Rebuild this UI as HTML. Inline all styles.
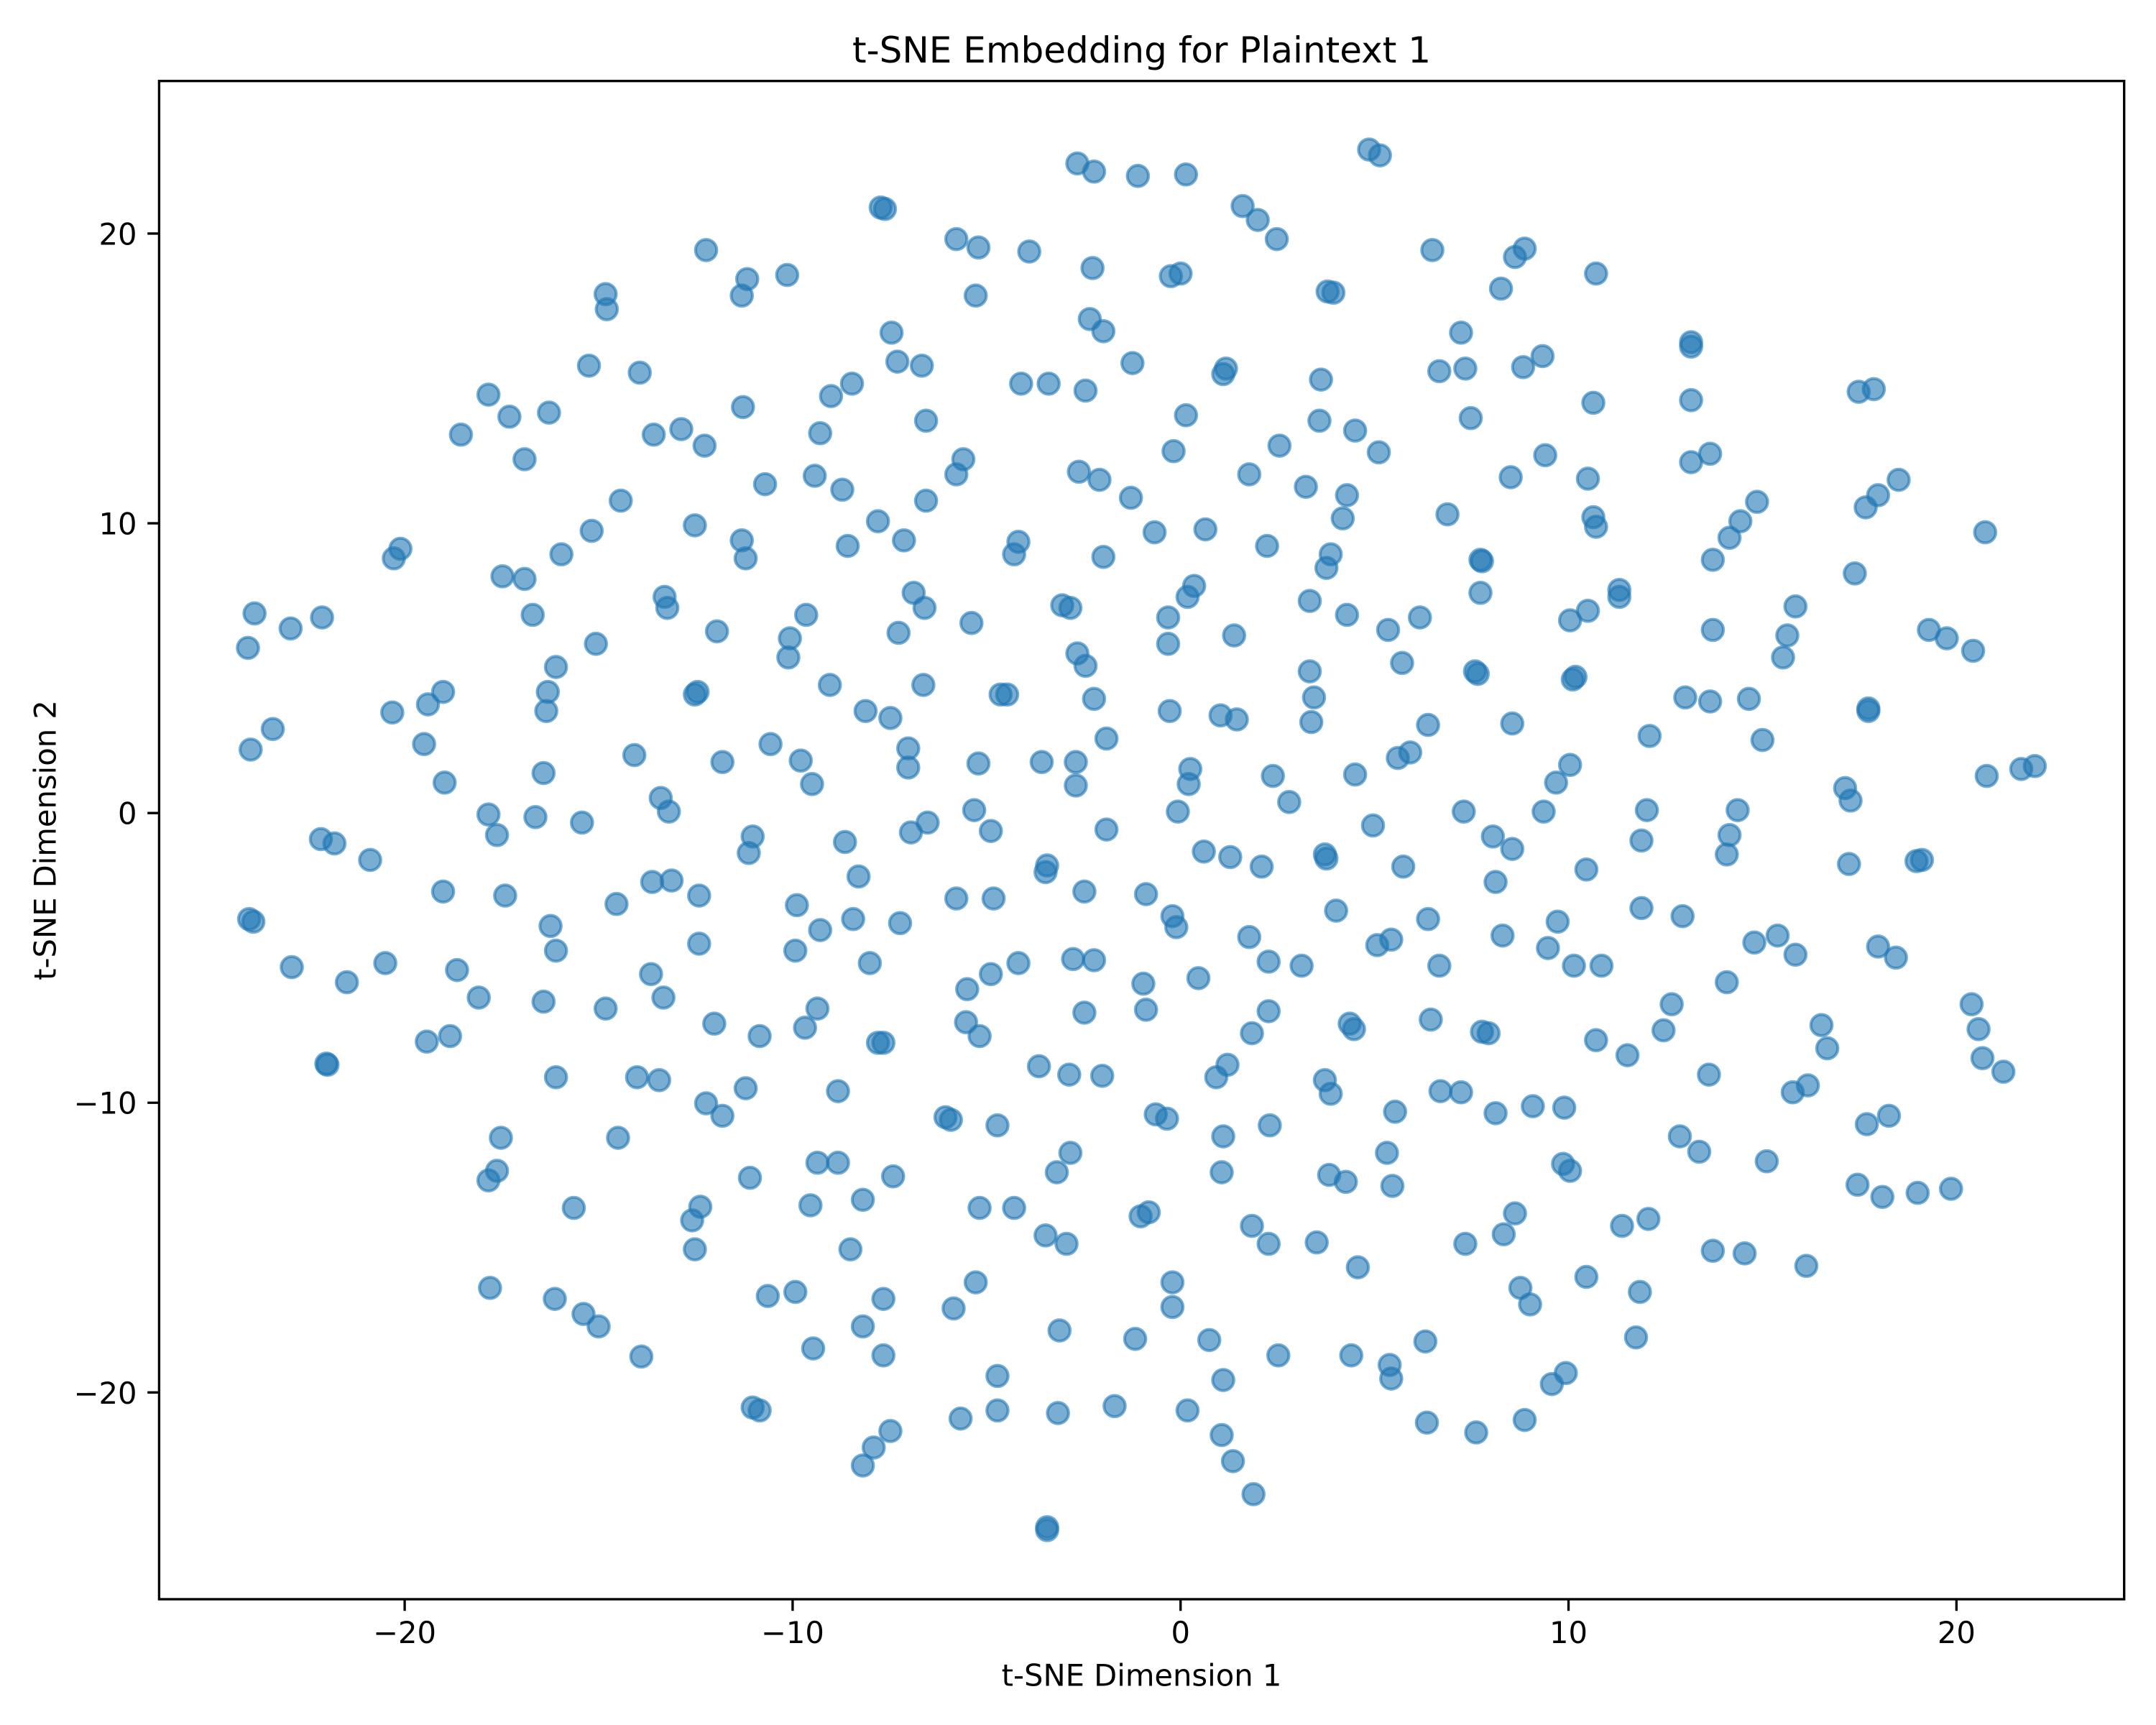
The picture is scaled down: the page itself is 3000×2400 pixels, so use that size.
<!DOCTYPE html>
<html lang="en">
<head>
<meta charset="utf-8">
<title>t-SNE Embedding for Plaintext 1</title>
<style>
html,body{margin:0;padding:0;background:#fff;width:3000px;height:2400px;overflow:hidden}
svg{display:block}
text{font-family:"DejaVu Sans","Liberation Sans",sans-serif;fill:#000}
</style>
</head>
<body>
<svg id="chart" xmlns="http://www.w3.org/2000/svg" width="3000" height="2400" viewBox="0 0 3000 2400">
  <rect x="0" y="0" width="3000" height="2400" fill="#ffffff"/>
  <rect x="221.4" y="112.7" width="2734.3" height="2112.3" fill="#ffffff"/>
  <g id="points"></g>
  <g id="x-ticks"></g>
  <g id="y-ticks"></g>
  <rect x="221.4" y="112.7" width="2734.3" height="2112.3" fill="none" stroke="#000" stroke-width="3.33"/>
  <text x="1588.5" y="87" font-size="50" text-anchor="middle">t-SNE Embedding for Plaintext 1</text>
  <text x="1588.5" y="2345.5" font-size="41.67" text-anchor="middle">t-SNE Dimension 1</text>
  <text transform="translate(77.7,1169) rotate(-90)" font-size="41.67" text-anchor="middle">t-SNE Dimension 2</text>
</svg>
<script>
const xTickValues = [-20, -10, 0, 10, 20];
const yTickValues = [-20, -10, 0, 10, 20];
const xTickLabels = ["\u221220", "\u221210", "0", "10", "20"];
const yTickLabels = ["\u221220", "\u221210", "0", "10", "20"];
const xDomain = [-26.33, 24.323];
const yDomain = [-27.136, 25.266];
const tsneX = [
4.86,5.14,-2.66,-2.23,-1.10,0.14,1.60,1.99,2.48,-7.73,
-7.62,-5.78,-5.21,-3.90,6.49,8.87,8.62,-12.23,-2.27,-11.17,
-11.31,-10.14,-0.25,0.0,10.71,-14.82,-14.79,-5.28,3.79,3.94,
8.26,-2.34,-1.99,-7.45,7.23,13.16,13.16,-7.30,-6.67,-1.24,
9.33,8.83,6.67,7.34,-15.25,-13.94,3.62,1.10,1.17,-4.11,
-3.40,-2.45,-8.47,-9.01,17.48,17.87,-17.84,-17.30,-16.28,-11.28,
10.64,13.16,0.14,7.48,-6.56,3.58,-18.55,-13.58,-12.87,-12.27,
-9.29,4.50,2.55,5.11,-0.18,-16.91,-5.60,-2.62,13.16,13.65,
9.40,-5.78,-9.43,-2.09,1.77,8.51,10.50,18.51,-10.71,-8.72,
3.23,4.29,-1.28,-6.56,-14.43,14.86,6.88,10.64,10.71,17.66,
17.98,-7.80,4.18,-12.52,-15.18,14.43,0.64,-0.67,-11.31,-7.13,
-4.18,-8.58,2.23,14.15,20.74,-4.29,-1.99,3.87,-15.96,-20.28,
-20.11,-11.21,3.76,13.72,7.73,7.77,17.38,-17.48,-16.91,0.35,
11.31,11.31,7.73,-6.88,-13.30,-13.23,-3.05,-2.84,0.18,3.33,
-6.60,15.85,10.50,-0.32,4.29,-9.65,-16.70,-22.13,-23.87,6.17,
10.04,-5.39,-22.94,5.35,-7.27,1.38,13.72,15.64,19.29,19.75,
-11.95,-0.32,-10.07,-24.04,-15.07,-2.66,20.43,15.53,-10.11,5.71,
-2.45,-16.10,7.59,7.66,3.33,10.18,10.11,-16.31,-19.01,-9.04,
-6.63,-12.45,-12.52,-4.64,-4.47,-19.40,3.44,-2.23,13.01,13.65,
14.65,-8.12,17.73,17.73,-0.28,-20.32,-16.35,1.03,1.45,-7.48,
3.37,6.38,8.55,-23.40,-1.91,12.09,15.0,-19.50,-23.97,-7.02,
-10.57,-14.08,5.92,5.60,10.04,-9.79,-11.81,-5.21,-3.58,-2.70,
0.25,-7.02,2.38,-16.42,4.50,-18.97,9.68,0.21,-9.50,-2.70,
17.13,-13.40,17.27,20.78,21.67,22.02,2.80,-17.84,-16.63,-13.19,
-5.32,-0.07,7.30,9.36,12.02,14.36,-15.43,-6.52,-6.95,4.96,
-1.91,-4.89,8.05,-17.62,-11.03,-22.16,-21.81,-8.65,11.88,14.15,
-11.13,-20.89,14.08,8.55,0.60,1.28,2.09,3.72,3.76,-3.44,
-3.48,5.74,17.23,10.46,-8.30,18.97,19.11,8.12,-13.62,-13.12,
-19.01,-2.48,-0.89,-5.78,-4.82,-12.41,-17.41,-14.54,-9.89,4.01,
11.88,12.94,-0.21,6.38,-8.44,-7.23,-16.24,-0.11,-9.29,-24.01,
-23.90,9.72,8.30,1.77,15.39,14.79,15.85,-12.41,-16.10,17.98,
9.47,18.44,-9.93,5.43,5.07,-2.77,-2.23,2.27,3.12,-8.01,
-4.18,6.67,-4.89,10.14,10.85,-20.50,-18.65,-22.91,-13.65,0.46,
-21.49,-0.96,-5.50,14.08,-13.33,-18.09,-16.42,20.39,-14.82,-9.36,
12.66,-0.89,-2.48,2.27,6.45,4.36,4.47,20.57,-12.02,-5.53,
-9.68,16.52,12.45,-5.18,1.84,-10.85,7.77,7.94,-18.83,-19.43,
-7.80,-7.66,16.67,10.71,-22.02,-21.99,1.21,11.52,20.67,21.21,
-16.10,0.92,-3.65,-2.87,-2.02,3.72,-14.01,-13.44,13.62,16.17,
15.78,-11.21,-8.83,3.87,6.70,7.23,9.08,9.89,5.53,8.12,
-12.23,-11.81,-6.06,-5.92,-0.64,-0.35,-4.72,2.30,18.26,17.69,
-17.52,-14.50,1.10,12.87,13.37,5.32,-2.84,-9.36,-8.83,-3.19,
9.86,10.04,15.11,3.83,4.26,-7.41,-11.10,1.06,-17.62,-17.84,
5.46,17.45,19.0,19.86,18.09,-9.54,-8.19,-15.64,-12.38,-5.18,
-4.29,-0.82,-1.03,8.62,-12.59,12.06,11.38,1.84,-3.48,-2.94,
3.51,2.27,7.34,8.33,-8.51,-12.52,13.72,14.54,16.13,4.57,
10.46,-0.21,-17.80,8.76,-9.93,-10.64,-7.66,11.84,-16.13,-5.28,
-5.85,-0.21,9.01,-15.39,-15.0,-8.19,-3.12,-1.17,0.74,6.31,
11.74,-9.47,-13.90,-7.66,2.52,4.40,5.39,5.43,-4.72,1.10,
9.57,9.93,-11.03,-10.85,-4.72,-3.16,-1.70,0.18,-5.67,6.35,
8.87,1.06,7.62,-7.48,-7.91,-8.19,1.35,1.88,-3.44,-3.44
];
const tsneY = [
22.9,22.7,22.42,22.14,21.99,22.04,20.95,20.47,19.81,20.9,
20.85,19.81,19.52,19.38,19.43,19.48,19.19,19.43,18.81,18.43,
17.86,18.57,18.53,18.62,18.62,17.91,17.39,17.86,18.0,17.96,
18.1,17.05,16.63,16.58,16.58,16.25,16.10,15.58,15.44,15.53,
15.77,15.39,15.25,15.34,15.44,15.2,14.96,15.15,15.34,14.82,
14.82,14.58,14.82,14.39,14.54,14.63,14.44,13.68,13.82,14.01,
14.16,14.25,13.73,13.63,13.54,13.54,13.06,13.06,13.25,12.68,
13.11,13.2,12.68,12.45,12.49,12.21,12.21,11.78,12.11,12.40,
12.35,11.69,11.64,11.5,11.69,11.59,11.54,11.5,11.35,11.16,
11.26,10.97,10.88,10.78,10.78,10.74,10.31,10.21,9.88,10.55,
10.97,10.07,10.17,9.93,9.74,10.07,9.79,9.69,9.41,9.41,
9.36,9.22,9.22,9.5,9.69,8.93,8.84,8.93,8.93,8.79,
9.12,8.79,8.46,8.74,8.74,8.69,8.27,8.17,8.08,7.84,
7.70,7.46,7.6,7.6,7.46,7.08,7.17,7.08,7.46,7.32,
7.08,7.13,6.98,6.75,6.84,6.84,6.84,6.75,6.89,6.75,
6.65,6.56,6.37,6.32,6.22,6.13,6.32,6.13,6.32,6.03,
6.27,5.84,6.03,5.7,5.84,5.51,5.6,5.37,5.37,5.18,
5.08,5.04,4.89,4.80,4.89,4.70,4.61,4.18,4.18,4.42,
4.42,4.18,4.09,4.09,4.09,3.75,3.99,3.94,3.99,3.85,
3.94,3.52,3.61,3.52,3.52,3.47,3.52,3.37,3.23,3.28,
3.14,3.04,3.09,2.90,2.57,2.66,2.52,2.38,2.19,2.23,
2.38,2.0,2.09,1.90,1.66,1.81,1.76,1.71,1.76,1.76,
1.52,1.57,1.28,1.38,1.33,1.05,1.05,1.0,1.0,0.95,
0.86,0.52,0.43,1.28,1.52,1.62,0.38,-0.05,-0.14,0.05,
0.1,0.05,0.05,0.05,0.1,0.1,-0.33,-0.33,-0.67,-0.43,
-0.57,-0.62,-0.81,-0.76,-0.81,-0.90,-1.05,-1.0,-0.95,-0.76,
-1.38,-1.62,-1.43,-1.24,-1.33,-1.52,-1.85,-1.43,-1.57,-1.81,
-2.04,-1.85,-1.76,-1.95,-2.19,-1.66,-1.62,-2.38,-2.38,-2.33,
-2.71,-2.71,-2.80,-2.95,-2.95,-2.85,-2.85,-3.14,-3.18,-3.37,
-3.28,-3.56,-3.56,-3.66,-3.66,-3.8,-3.9,-3.94,-4.04,-3.66,
-3.75,-3.75,-4.23,-4.28,-4.23,-4.47,-4.89,-4.51,-4.75,-4.61,
-4.66,-4.99,-4.75,-4.37,-4.56,-5.04,-5.08,-5.13,-5.27,-5.18,
-5.18,-5.27,-5.56,-5.27,-5.27,-5.18,-5.42,-5.32,-5.56,-5.7,
-5.84,-5.89,-6.08,-5.84,-6.37,-6.37,-6.51,-6.60,-6.75,-6.75,
-6.60,-6.79,-6.89,-6.84,-7.13,-7.27,-7.46,-7.46,-7.27,-7.22,
-7.41,-7.32,-7.5,-7.7,-7.6,-7.7,-7.55,-7.6,-7.7,-7.89,
-7.93,-7.93,-8.12,-7.84,-8.65,-8.69,-8.69,-8.36,-8.46,-8.93,
-9.12,-9.12,-8.74,-9.03,-9.07,-9.22,-9.12,-9.22,-9.03,-9.40,
-9.64,-9.5,-9.6,-9.69,-9.6,-9.64,-10.12,-10.17,-10.31,-10.36,
-10.02,-10.45,-10.5,-10.59,-10.4,-10.55,-10.78,-10.78,-10.45,-10.74,
-11.21,-11.21,-11.16,-11.16,-11.69,-11.73,-11.73,-12.07,-12.07,-12.4,
-12.11,-12.35,-12.02,-12.49,-12.73,-12.54,-12.59,-12.4,-12.35,-12.68,
-12.87,-12.83,-13.11,-12.97,-13.25,-13.54,-13.35,-13.63,-13.59,-13.63,
-13.63,-13.78,-13.92,-13.82,-14.06,-14.01,-14.25,-14.25,-14.58,-14.87,
-14.82,-14.87,-14.87,-14.54,-15.06,-15.06,-15.11,-15.2,-15.63,-15.68,
-16.01,-16.2,-16.39,-16.39,-16.53,-16.67,-16.77,-16.53,-16.77,-16.2,
-17.1,-17.05,-16.96,-17.29,-17.72,-17.72,-17.86,-18.15,-18.19,-18.24,
-18.1,-18.48,-18.76,-18.72,-18.72,-18.72,-19.05,-19.52,-19.43,-19.57,
-19.71,-19.33,-20.52,-20.62,-20.62,-20.71,-20.47,-20.62,-20.9,-21.04,
-20.95,-21.47,-21.38,-21.33,-21.9,-22.52,-22.37,-23.51,-24.65,-24.75
];

const SVG_NS = "http://www.w3.org/2000/svg";
const plotLeft = 221.4, plotRight = 2955.7, plotTop = 112.7, plotBottom = 2225;
function xScale(v) {
  return plotLeft + (v - xDomain[0]) / (xDomain[1] - xDomain[0]) * (plotRight - plotLeft);
}
function yScale(v) {
  return plotBottom - (v - yDomain[0]) / (yDomain[1] - yDomain[0]) * (plotBottom - plotTop);
}

const pointsGroup = document.getElementById("points");
const pointCount = Math.min(tsneX.length, tsneY.length);
for (let i = 0; i < pointCount; i++) {
  const c = document.createElementNS(SVG_NS, "circle");
  c.setAttribute("cx", xScale(tsneX[i]).toFixed(2));
  c.setAttribute("cy", yScale(tsneY[i]).toFixed(2));
  c.setAttribute("r", "14.73");
  c.setAttribute("fill", "#1f77b4");
  c.setAttribute("fill-opacity", "0.6");
  c.setAttribute("stroke", "#1f77b4");
  c.setAttribute("stroke-opacity", "0.6");
  c.setAttribute("stroke-width", "4.17");
  
  
  pointsGroup.appendChild(c);
}

const xTickGroup = document.getElementById("x-ticks");
xTickValues.forEach(function (v, i) {
  const px = xScale(v);
  const mark = document.createElementNS(SVG_NS, "line");
  mark.setAttribute("x1", px);
  mark.setAttribute("x2", px);
  mark.setAttribute("y1", plotBottom);
  mark.setAttribute("y2", plotBottom + 14.6 + 1.6);
  mark.setAttribute("stroke", "#000");
  mark.setAttribute("stroke-width", "3.33");
  
  
  xTickGroup.appendChild(mark);
  const label = document.createElementNS(SVG_NS, "text");
  label.setAttribute("x", px);
  label.setAttribute("y", 2286);
  label.setAttribute("font-size", "41.67");
  label.setAttribute("text-anchor", "middle");
  label.textContent = xTickLabels[i];
  
  
  xTickGroup.appendChild(label);
});

const yTickGroup = document.getElementById("y-ticks");
yTickValues.forEach(function (v, i) {
  const py = yScale(v);
  const mark = document.createElementNS(SVG_NS, "line");
  mark.setAttribute("x1", plotLeft);
  mark.setAttribute("x2", plotLeft - 14.6 - 1.6);
  mark.setAttribute("y1", py);
  mark.setAttribute("y2", py);
  mark.setAttribute("stroke", "#000");
  mark.setAttribute("stroke-width", "3.33");
  
  
  yTickGroup.appendChild(mark);
  const label = document.createElementNS(SVG_NS, "text");
  label.setAttribute("x", 190.5);
  label.setAttribute("y", py + 15.4);
  label.setAttribute("font-size", "41.67");
  label.setAttribute("text-anchor", "end");
  label.textContent = yTickLabels[i];
  
  
  yTickGroup.appendChild(label);
});
</script>
</body>
</html>
